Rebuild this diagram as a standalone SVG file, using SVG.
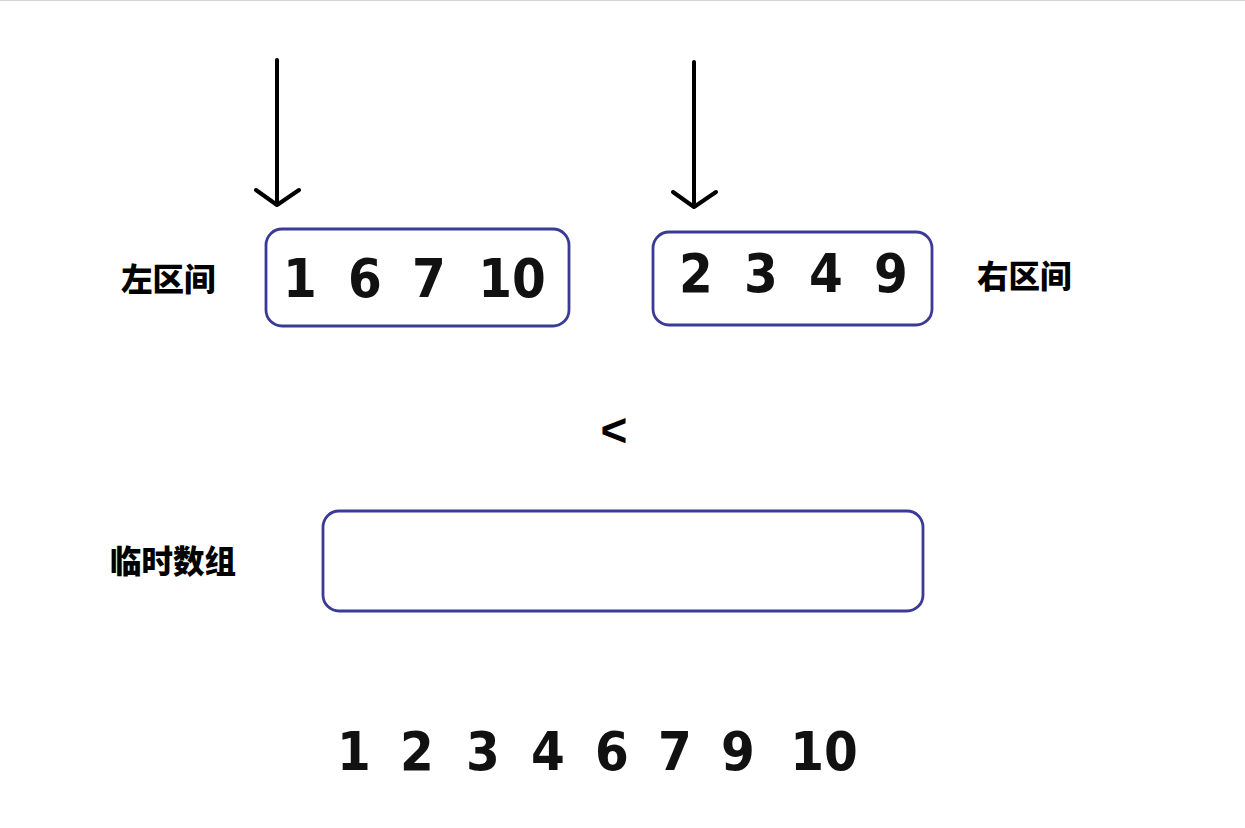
<svg xmlns="http://www.w3.org/2000/svg" width="1245" height="828" viewBox="0 0 1245 828">
<style>
.box{fill:#ffffff;stroke:#3b3a96;stroke-width:2.8}
.num{font-family:"DejaVu Sans Condensed","DejaVu Sans","Liberation Sans",sans-serif;font-weight:bold;font-size:54px;fill:#111;text-anchor:middle}
.lbl{font-family:"Noto Sans CJK SC","Noto Sans",sans-serif;font-weight:900;font-size:31.5px;fill:#000}
.arr{fill:none;stroke:#000;stroke-width:4;stroke-linecap:round;stroke-linejoin:round}
</style>
<rect x="0" y="0" width="1245" height="828" fill="#ffffff"/>
<line x1="0" y1="0.5" x2="1245" y2="0.5" stroke="#d4d4d4" stroke-width="1"/>
<g id="connectors">
  <path class="arr" d="M277,60 L277,205 M256,190 L277,205 L299,190"/>
  <path class="arr" d="M694,62 L694,207 M673,192 L694,207 L716,192"/>
</g>
<g id="left-label"><text class="lbl" x="121" y="291">左区间</text></g>
<g id="left-interval">
  <rect class="box" x="266" y="229" width="303" height="97" rx="16"/>
  <text class="num" x="300" y="297">1</text>
  <text class="num" x="365" y="297">6</text>
  <text class="num" x="429" y="297">7</text>
  <text class="num" x="512" y="297">10</text>
</g>
<g id="right-interval">
  <rect class="box" x="653" y="232" width="279" height="93" rx="16"/>
  <text class="num" x="696" y="292">2</text>
  <text class="num" x="761" y="292">3</text>
  <text class="num" x="826" y="292">4</text>
  <text class="num" x="891" y="292">9</text>
</g>
<g id="right-label"><text class="lbl" x="977" y="288">右区间</text></g>
<g id="compare"><text x="614" y="446" font-family="Liberation Sans, Arial, sans-serif" font-weight="bold" font-size="46" text-anchor="middle" fill="#000">&lt;</text></g>
<g id="temp-label"><text class="lbl" x="110" y="573">临时数组</text></g>
<g id="temp-array">
  <rect class="box" x="323" y="511" width="600" height="100" rx="16"/>
</g>
<g id="result">
  <text class="num" x="354" y="770">1</text>
  <text class="num" x="417" y="770">2</text>
  <text class="num" x="483" y="770">3</text>
  <text class="num" x="548" y="770">4</text>
  <text class="num" x="612" y="770">6</text>
  <text class="num" x="675" y="770">7</text>
  <text class="num" x="738" y="770">9</text>
  <text class="num" x="824" y="770">10</text>
</g>
</svg>
